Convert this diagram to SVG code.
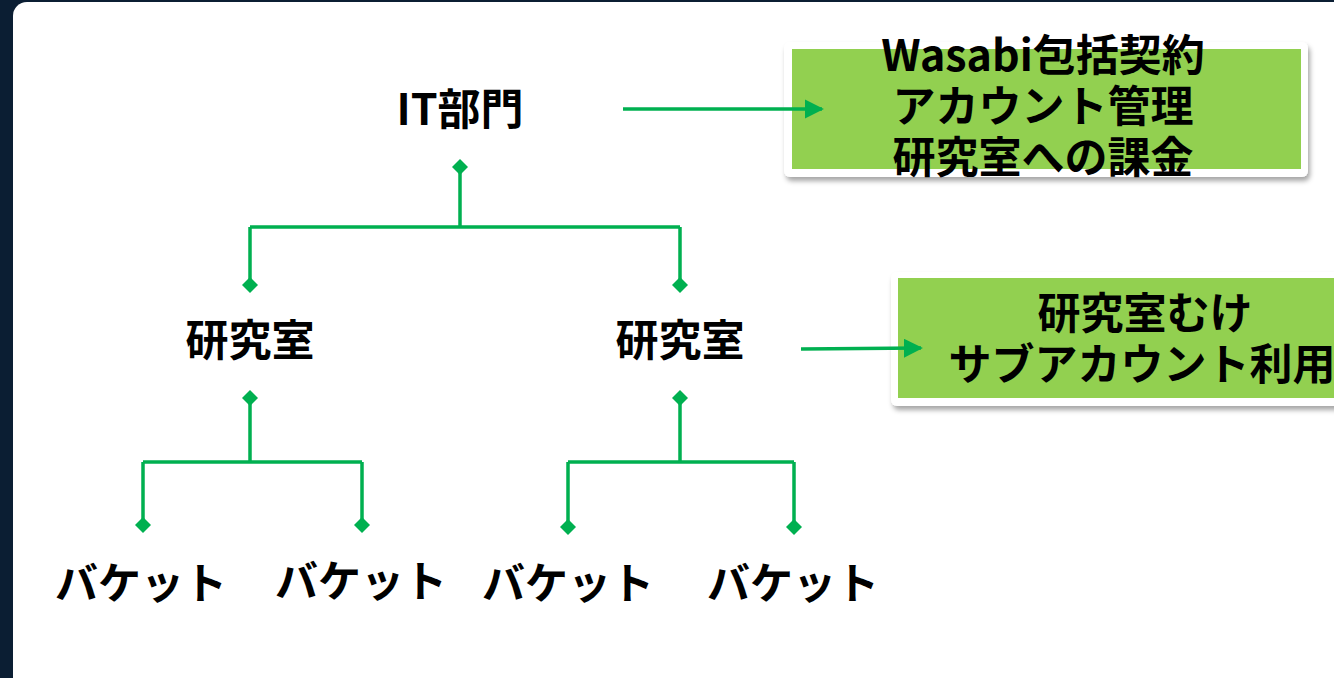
<svg xmlns="http://www.w3.org/2000/svg" width="1334" height="678" viewBox="0 0 1334 678">
  <defs>
    <style>
      .t { font-family: "Noto Sans CJK JP", "Noto Sans", sans-serif; font-weight: 700; fill: #000; text-anchor: middle; dominant-baseline: central; font-size: 43px; }
      .ln { fill: none; stroke: #00b050; stroke-width: 3.5; }
      .dm { fill: #00b050; }
      .frame { fill: #ffffff; filter: url(#sh); }
      .box { fill: #92d050; }
    </style>
    <filter id="sh" x="-10%" y="-20%" width="120%" height="150%">
      <feDropShadow dx="2" dy="4" stdDeviation="2.5" flood-color="#000" flood-opacity="0.35"/>
    </filter>
    <marker id="ah" viewBox="0 0 10 10" refX="9" refY="5" markerWidth="5.5" markerHeight="5.5" orient="auto" markerUnits="strokeWidth">
      <path d="M0,0 L10,5 L0,10 z" fill="#00b050"/>
    </marker>
    <path id="dia" d="M0,-8 L8,0 L0,8 L-8,0 z"/>
  </defs>

  <rect x="0" y="0" width="1334" height="678" fill="#0b1e33"/>
  <rect x="13" y="2" width="1345" height="700" rx="14" ry="14" fill="#ffffff"/>

  <g id="note1">
    <rect class="frame" x="784" y="42" width="524" height="135" rx="6"/>
    <rect class="box" x="792" y="49" width="509" height="120"/>
    <text class="t" x="1043" y="52">Wasabi包括契約</text>
    <text class="t" x="1043" y="103">アカウント管理</text>
    <text class="t" x="1043" y="154">研究室への課金</text>
  </g>

  <g id="note2">
    <rect class="frame" x="891" y="272" width="460" height="134" rx="6"/>
    <rect class="box" x="898" y="278" width="450" height="120"/>
    <text class="t" x="1145" y="310">研究室むけ</text>
    <text class="t" x="1142" y="361" font-size="42">サブアカウント利用</text>
  </g>

  <g id="connectors">
    <path class="ln" d="M460,167 V227 M250,227 H680 M250,227 V285 M680,227 V285"/>
    <use href="#dia" class="dm" x="460" y="167"/>
    <use href="#dia" class="dm" x="250" y="285"/>
    <use href="#dia" class="dm" x="680" y="285"/>

    <path class="ln" d="M250,398 V462 M143,462 H362 M143,462 V525 M362,462 V525"/>
    <use href="#dia" class="dm" x="250" y="398"/>
    <use href="#dia" class="dm" x="143" y="525"/>
    <use href="#dia" class="dm" x="362" y="525"/>

    <path class="ln" d="M680,398 V462 M568,462 H794 M568,462 V527 M794,462 V527"/>
    <use href="#dia" class="dm" x="680" y="398"/>
    <use href="#dia" class="dm" x="568" y="527"/>
    <use href="#dia" class="dm" x="794" y="527"/>

    <line class="ln" x1="623" y1="109" x2="822" y2="109" marker-end="url(#ah)"/>
    <line class="ln" x1="801" y1="349" x2="921" y2="348" marker-end="url(#ah)"/>
  </g>

  <g id="it">
    <text class="t" x="460" y="106" font-size="42">IT部門</text>
  </g>
  <g id="lab1">
    <text class="t" x="250" y="337">研究室</text>
  </g>
  <g id="lab2">
    <text class="t" x="680" y="337">研究室</text>
  </g>
  <g id="b1"><text class="t" x="141" y="580">バケット</text></g>
  <g id="b2"><text class="t" x="361" y="578">バケット</text></g>
  <g id="b3"><text class="t" x="568" y="580">バケット</text></g>
  <g id="b4"><text class="t" x="793" y="580">バケット</text></g>
</svg>
